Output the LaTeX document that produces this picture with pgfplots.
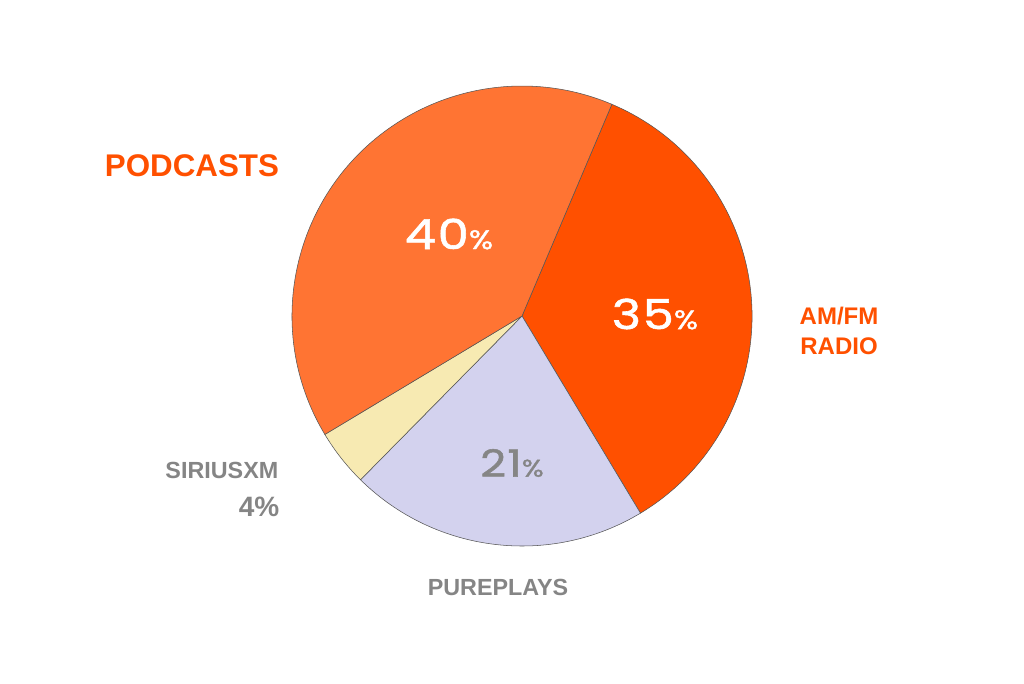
\documentclass[border=0pt]{standalone}
\usepackage{pgfplots}
\usepackage{pgfplotstable}
\pgfplotsset{compat=1.18}
\usepackage{fontspec}
\setmainfont{Liberation Sans}
\newfontfamily\pop{Poppins}[FakeBold=1.4, FakeStretch=1.2, LetterSpace=4]
\definecolor{cPod}{HTML}{FF7433}
\definecolor{cAM}{HTML}{FF5000}
\definecolor{cPure}{HTML}{D3D2EE}
\definecolor{cSir}{HTML}{F7EAB2}
\definecolor{edge}{HTML}{555555}
\definecolor{lblOr}{HTML}{FF5000}
\definecolor{lblGr}{HTML}{858585}
\pgfplotstableread{
name value col
AMFM 35 cAM
Pureplays 21 cPure
SiriusXM 4 cSir
Podcasts 40 cPod
}\piedata
\begin{document}
\begin{tikzpicture}
\pgfplotstablegetrowsof{\piedata}
\pgfmathtruncatemacro\N{\pgfplotsretval-1}
\gdef\cum{67}
\foreach \i in {0,...,\N}{
  \pgfplotstablegetelem{\i}{value}\of\piedata
  \pgfmathsetmacro\a{\cum}
  \pgfmathsetmacro\b{\cum-3.6*\pgfplotsretval}
  \expandafter\xdef\csname sA\i\endcsname{\a}
  \expandafter\xdef\csname sB\i\endcsname{\b}
  \xdef\cum{\b}
  \pgfplotstablegetelem{\i}{col}\of\piedata
  \expandafter\xdef\csname sC\i\endcsname{\pgfplotsretval}
}
\begin{axis}[
  x=0.75pt, y=0.75pt,
  xmin=0, xmax=1024, ymin=0, ymax=683,
  y dir=reverse,
  axis lines=none, ticks=none,
  clip=false,
]
\addplot[draw=none, forget plot] coordinates {(0,0) (1024,683)};
\pgfplotsextra{
  \foreach \i in {0,...,\N}{
    \edef\tmp{\noexpand\filldraw[fill=\csname sC\i\endcsname, draw=edge, line width=0.4pt]
      (axis cs:522,316) -- ++(\csname sA\i\endcsname:172.5pt)
      arc[start angle=\csname sA\i\endcsname, end angle=\csname sB\i\endcsname, radius=172.5pt] -- cycle;}
    \tmp
  }
}
\node[text=white] at (axis cs:449,234) {\pop\fontsize{31}{31}\selectfont 40\fontsize{20}{20}\selectfont\%};
\node[text=white] at (axis cs:655,314) {\pop\fontsize{31}{31}\selectfont 35\fontsize{20}{20}\selectfont\%};
\node[text=lblGr] at (axis cs:512,463) {\pop\fontsize{28}{28}\selectfont 21\fontsize{18}{18}\selectfont\%};
\node[text=lblOr, font=\bfseries\fontsize{23.5}{23.5}\selectfont] at (axis cs:192,166) {PODCASTS};
\node[text=lblOr, font=\bfseries\fontsize{18}{22}\selectfont, align=center] at (axis cs:839,331) {AM/FM\\RADIO};
\node[text=lblGr, font=\bfseries\fontsize{17.5}{17.5}\selectfont, anchor=east] at (axis cs:283,470) {SIRIUSXM};
\node[text=lblGr, font=\bfseries\fontsize{21}{21}\selectfont, anchor=east] at (axis cs:284,507) {4\%};
\node[text=lblGr, font=\bfseries\fontsize{17.5}{17.5}\selectfont] at (axis cs:498,587) {PUREPLAYS};
\end{axis}
\end{tikzpicture}
\end{document}
